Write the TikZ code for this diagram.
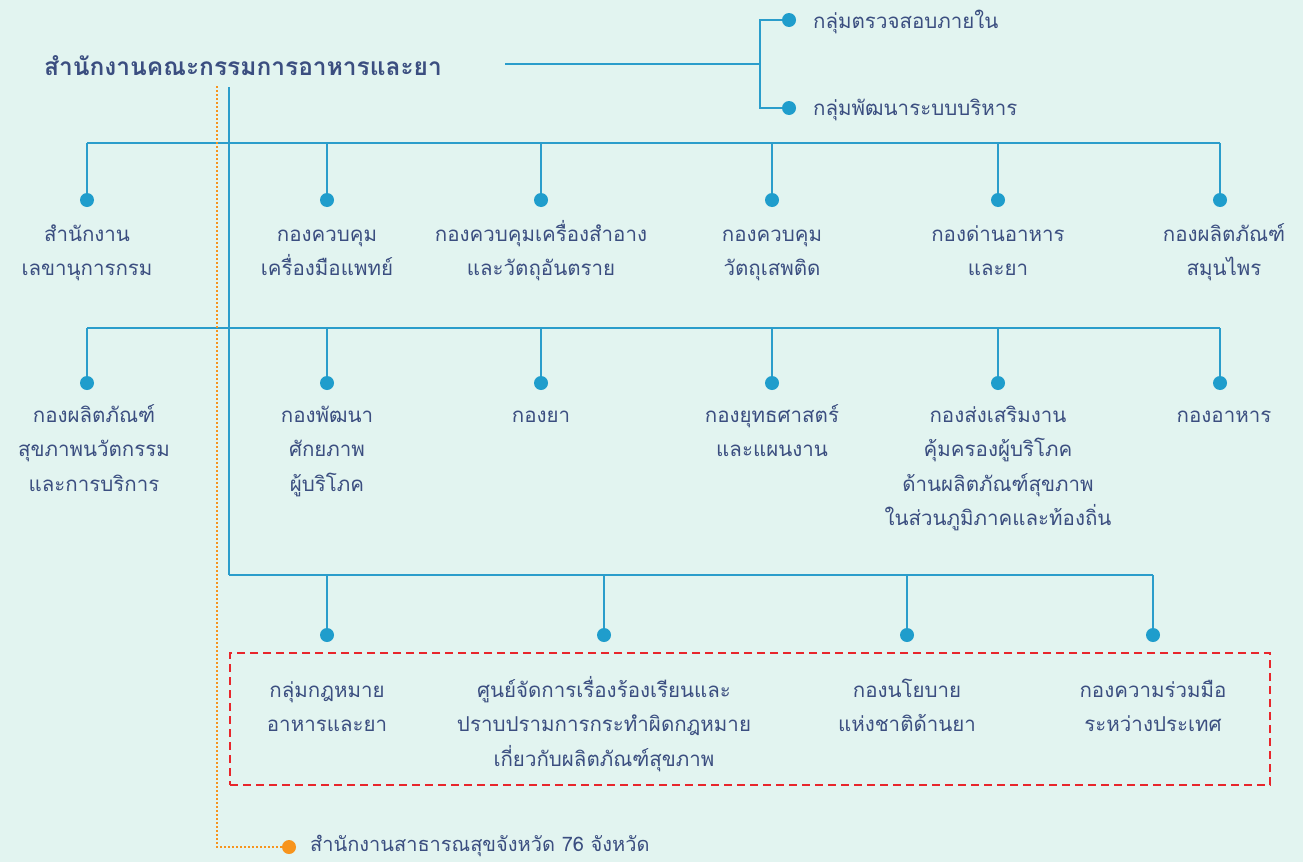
\documentclass[tikz,border=0pt]{standalone}
\usepackage{fontspec}
\newfontfamily\thai[Script=Thai]{Loma}
\definecolor{bg}{HTML}{E2F4F0}
\definecolor{ln}{HTML}{2B9DCB}
\definecolor{dotc}{HTML}{1F9DCC}
\definecolor{txt}{HTML}{3B4E80}
\definecolor{redc}{HTML}{E8262C}
\definecolor{orc}{HTML}{F7941D}
\newcommand{\fl}{\rule{0pt}{22pt}}
\tikzset{
  conn/.style={draw=ln,line width=1.6pt},
  bdot/.style={circle,fill=dotc,inner sep=0pt,minimum size=14pt},
  odot/.style={circle,fill=orc,inner sep=0pt,minimum size=14pt},
  lbl/.style={text=txt,font=\thai\fontsize{20.5}{34.5}\selectfont,align=center,anchor=north,inner sep=0pt},
  llbl/.style={text=txt,font=\thai\fontsize{20.5}{34.5}\selectfont,anchor=west,inner sep=0pt},
  orline/.style={draw=orc,line width=1.6pt,dash pattern=on 2pt off 2pt},
  redbox/.style={draw=redc,line width=1.6pt,dash pattern=on 8pt off 5pt}
}
\begin{document}
\begin{tikzpicture}[x=1pt,y=-1pt]
\fill[bg] (0,0) rectangle (1303,862);
\useasboundingbox (0,0) rectangle (1303,862);
% title
\node[text=txt,font=\thai\bfseries\fontsize{24.5}{28}\selectfont,inner sep=0pt] (title) at (243,66) {สำนักงานคณะกรรมการอาหารและยา};
\coordinate (tr) at (505,64);
\coordinate (tj) at (760,64);
\coordinate (tv) at (229,87);
\coordinate (ov) at (217,86);
% right groups
\node[bdot] (gd1) at (789,20) {};
\node[bdot] (gd2) at (789,108) {};
\node[llbl] (g1) at (813,22) {กลุ่มตรวจสอบภายใน};
\node[llbl] (g2) at (813,110) {กลุ่มพัฒนาระบบบริหาร};
\draw[conn] (tr) -- (tj);
\draw[conn] (gd1) -| (tj) |- (gd2);
% main trunk
\coordinate (r3) at (229,575);
\draw[conn] (tv) -- (r3);
% row 1
\foreach \n/\x in {a/87,b/327,c/541,d/772,e/998,f/1220}{
  \node[bdot] (d1\n) at (\x,200) {};
  \coordinate (t1\n) at (\x,143);
  \draw[conn] (t1\n) -- (d1\n);
}
\draw[conn] (t1a) -- (t1f);
\node[lbl] (l1a) at (87,219) {\fl สำนักงาน\\เลขานุการกรม};
\node[lbl] (l1b) at (327,219) {\fl กองควบคุม\\เครื่องมือแพทย์};
\node[lbl] (l1c) at (541,219) {\fl กองควบคุมเครื่องสำอาง\\และวัตถุอันตราย};
\node[lbl] (l1d) at (772,219) {\fl กองควบคุม\\วัตถุเสพติด};
\node[lbl] (l1e) at (998,219) {\fl กองด่านอาหาร\\และยา};
\node[lbl] (l1f) at (1224,219) {\fl กองผลิตภัณฑ์\\สมุนไพร};
% row 2
\foreach \n/\x in {a/87,b/327,c/541,d/772,e/998,f/1220}{
  \node[bdot] (d2\n) at (\x,383) {};
  \coordinate (t2\n) at (\x,328);
  \draw[conn] (t2\n) -- (d2\n);
}
\draw[conn] (t2a) -- (t2f);
\node[lbl] (l2a) at (94,400) {\fl กองผลิตภัณฑ์\\สุขภาพนวัตกรรม\\และการบริการ};
\node[lbl] (l2b) at (327,400) {\fl กองพัฒนา\\ศักยภาพ\\ผู้บริโภค};
\node[lbl] (l2c) at (541,400) {\fl กองยา};
\node[lbl] (l2d) at (772,400) {\fl กองยุทธศาสตร์\\และแผนงาน};
\node[lbl] (l2e) at (998,400) {\fl กองส่งเสริมงาน\\คุ้มครองผู้บริโภค\\ด้านผลิตภัณฑ์สุขภาพ\\ในส่วนภูมิภาคและท้องถิ่น};
\node[lbl] (l2f) at (1224,400) {\fl กองอาหาร};
% row 3
\foreach \n/\x in {a/327,b/604,c/907,d/1153}{
  \node[bdot] (d3\n) at (\x,635) {};
  \coordinate (t3\n) at (\x,575);
  \draw[conn] (t3\n) -- (d3\n);
}
\draw[conn] (r3) -- (t3d);
\node[redbox,minimum width=1040pt,minimum height=132pt,inner sep=0pt] (box) at (750,719) {};
\node[lbl] (l3a) at (327,675) {\fl กลุ่มกฎหมาย\\อาหารและยา};
\node[lbl] (l3b) at (604,675) {\fl ศูนย์จัดการเรื่องร้องเรียนและ\\ปราบปรามการกระทำผิดกฎหมาย\\เกี่ยวกับผลิตภัณฑ์สุขภาพ};
\node[lbl] (l3c) at (907,675) {\fl กองนโยบาย\\แห่งชาติด้านยา};
\node[lbl] (l3d) at (1153,675) {\fl กองความร่วมมือ\\ระหว่างประเทศ};
% orange
\node[odot] (od) at (289,847) {};
\node[llbl,font=\thai\fontsize{20}{24}\selectfont] (ol) at (310,846) {สำนักงานสาธารณสุขจังหวัด 76 จังหวัด};
\draw[orline] (ov) |- (od);
\end{tikzpicture}
\end{document}
